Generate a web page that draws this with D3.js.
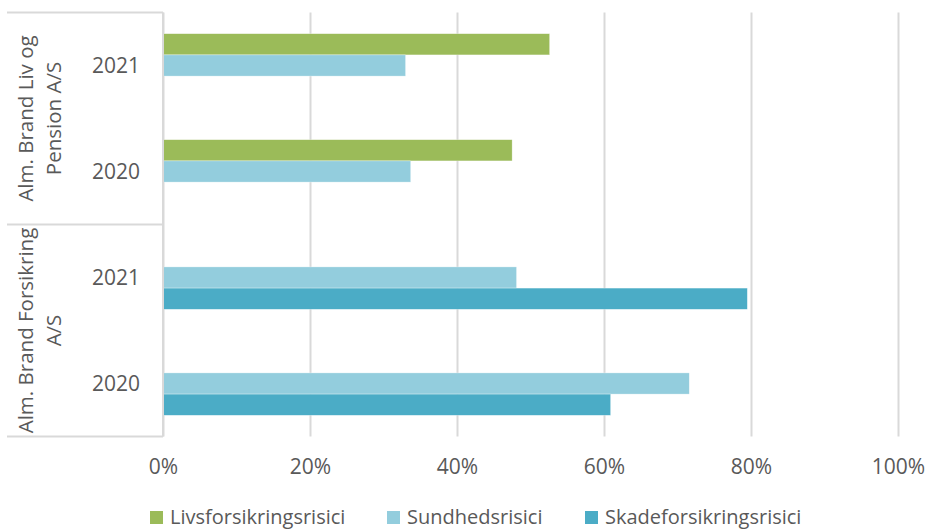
<!DOCTYPE html>
<html>
<head>
<meta charset="utf-8">
<style>
  body { margin: 0; background: #fff; }
  text { font-family: "Open Sans", "Liberation Sans", sans-serif; fill: #595959; }
</style>
</head>
<body>
<script src="https://d3js.org/d3.v7.min.js"></script>
<script>
// data (shares, 0..1)
var categories = ["liv2021", "liv2020", "fors2021", "fors2020"];
var yearLabels = ["2021", "2020", "2021", "2020"];
var groupLabels = [["Alm. Brand Liv og", "Pension A/S"], ["Alm. Brand Forsikring", "A/S"]];
var seriesNames = ["Livsforsikringsrisici", "Sundhedsrisici", "Skadeforsikringsrisici"];
var livValues = [0.526, 0.475, null, null];
var sundhedValues = [0.330, 0.337, 0.481, 0.716];
var skadeValues = [null, null, 0.795, 0.609];
var xTicks = [0, 0.2, 0.4, 0.6, 0.8, 1];
var colors = ["#9BBB59", "#93CDDD", "#4BACC6"];

var width = 925, height = 530;
var plot = {left: 163, right: 898, top: 12.5, bottom: 436.5};

var svg = d3.select("body").append("svg")
    .attr("width", width)
    .attr("height", height);

var x = d3.scaleLinear().domain([0, 1]).range([plot.left, plot.right]);
var y = d3.scaleBand().domain(categories).range([plot.top, plot.bottom]);
var ySub = d3.scaleBand().domain(seriesNames).range([0, y.bandwidth()])
    .paddingInner(0).paddingOuter(1);

// gridlines
var grid = svg.append("g")
    .attr("transform", "translate(0," + plot.bottom + ")")
    .call(d3.axisBottom(x).tickValues(xTicks).tickSize(-(plot.bottom - plot.top)).tickFormat(""));
grid.select(".domain").remove();
grid.selectAll("line").attr("stroke", "#d9d9d9").attr("stroke-width", 2);

// tick labels
var xAxis = svg.append("g")
    .attr("transform", "translate(0," + plot.bottom + ")")
    .call(d3.axisBottom(x).tickValues(xTicks).tickSize(0).tickPadding(23).tickFormat(d3.format(".0%")));
xAxis.select(".domain").remove();
xAxis.selectAll("text").attr("font-size", 21).attr("fill", "#595959")
    .style("font-family", "'Open Sans', sans-serif");

// bars
var series = [livValues, sundhedValues, skadeValues];
series.forEach(function(vals, s) {
    var rows = categories.map(function(c, i) { return {cat: c, v: vals[i]}; })
        .filter(function(d) { return d.v != null; });
    svg.append("g").selectAll("rect")
        .data(rows)
        .enter().append("rect")
        .attr("x", x(0))
        .attr("y", function(d) { return y(d.cat) + ySub(seriesNames[s]); })
        .attr("width", function(d) { return x(d.v) - x(0); })
        .attr("height", ySub.bandwidth())
        .attr("fill", colors[s])
        .attr("stroke", "#fff")
        .attr("stroke-opacity", 0.5)
        .attr("stroke-width", 0.6);
});

// left category axis (two levels)
var axisColor = "#d9d9d9";
svg.append("line")
    .attr("x1", plot.left).attr("x2", plot.left)
    .attr("y1", plot.top).attr("y2", plot.bottom)
    .attr("stroke", axisColor).attr("stroke-width", 2);
[0, 2, 4].forEach(function(i) {
    var yy = i < categories.length ? y(categories[i]) : plot.bottom;
    svg.append("line")
        .attr("x1", 7).attr("x2", plot.left)
        .attr("y1", yy).attr("y2", yy)
        .attr("stroke", axisColor).attr("stroke-width", 2);
});

svg.append("g").selectAll("text")
    .data(categories)
    .enter().append("text")
    .attr("x", 140)
    .attr("y", function(d) { return y(d) + y.bandwidth() / 2; })
    .attr("dy", "0.35em")
    .attr("text-anchor", "end")
    .attr("font-size", 21)
    .text(function(d, i) { return yearLabels[i]; });

groupLabels.forEach(function(lines, g) {
    var cy = y(categories[g * 2]) + y.bandwidth();
    var t = svg.append("text")
        .attr("transform", "translate(0," + cy + ") rotate(-90)")
        .attr("text-anchor", "middle")
        .attr("font-size", 20.5);
    lines.forEach(function(l, k) {
        t.append("tspan").attr("x", 0).attr("y", 33 + k * 28).text(l);
    });
});

// legend
var legendX = [150, 387, 585];
var legend = svg.append("g").selectAll("g")
    .data(seriesNames)
    .enter().append("g")
    .attr("transform", function(d, i) { return "translate(" + legendX[i] + ",511)"; });
legend.append("rect")
    .attr("width", 13).attr("height", 13)
    .attr("fill", function(d, i) { return colors[i]; });
legend.append("text")
    .attr("x", 20).attr("y", 13)
    .attr("font-size", 20)
    .text(function(d) { return d; });
</script>
</body>
</html>
